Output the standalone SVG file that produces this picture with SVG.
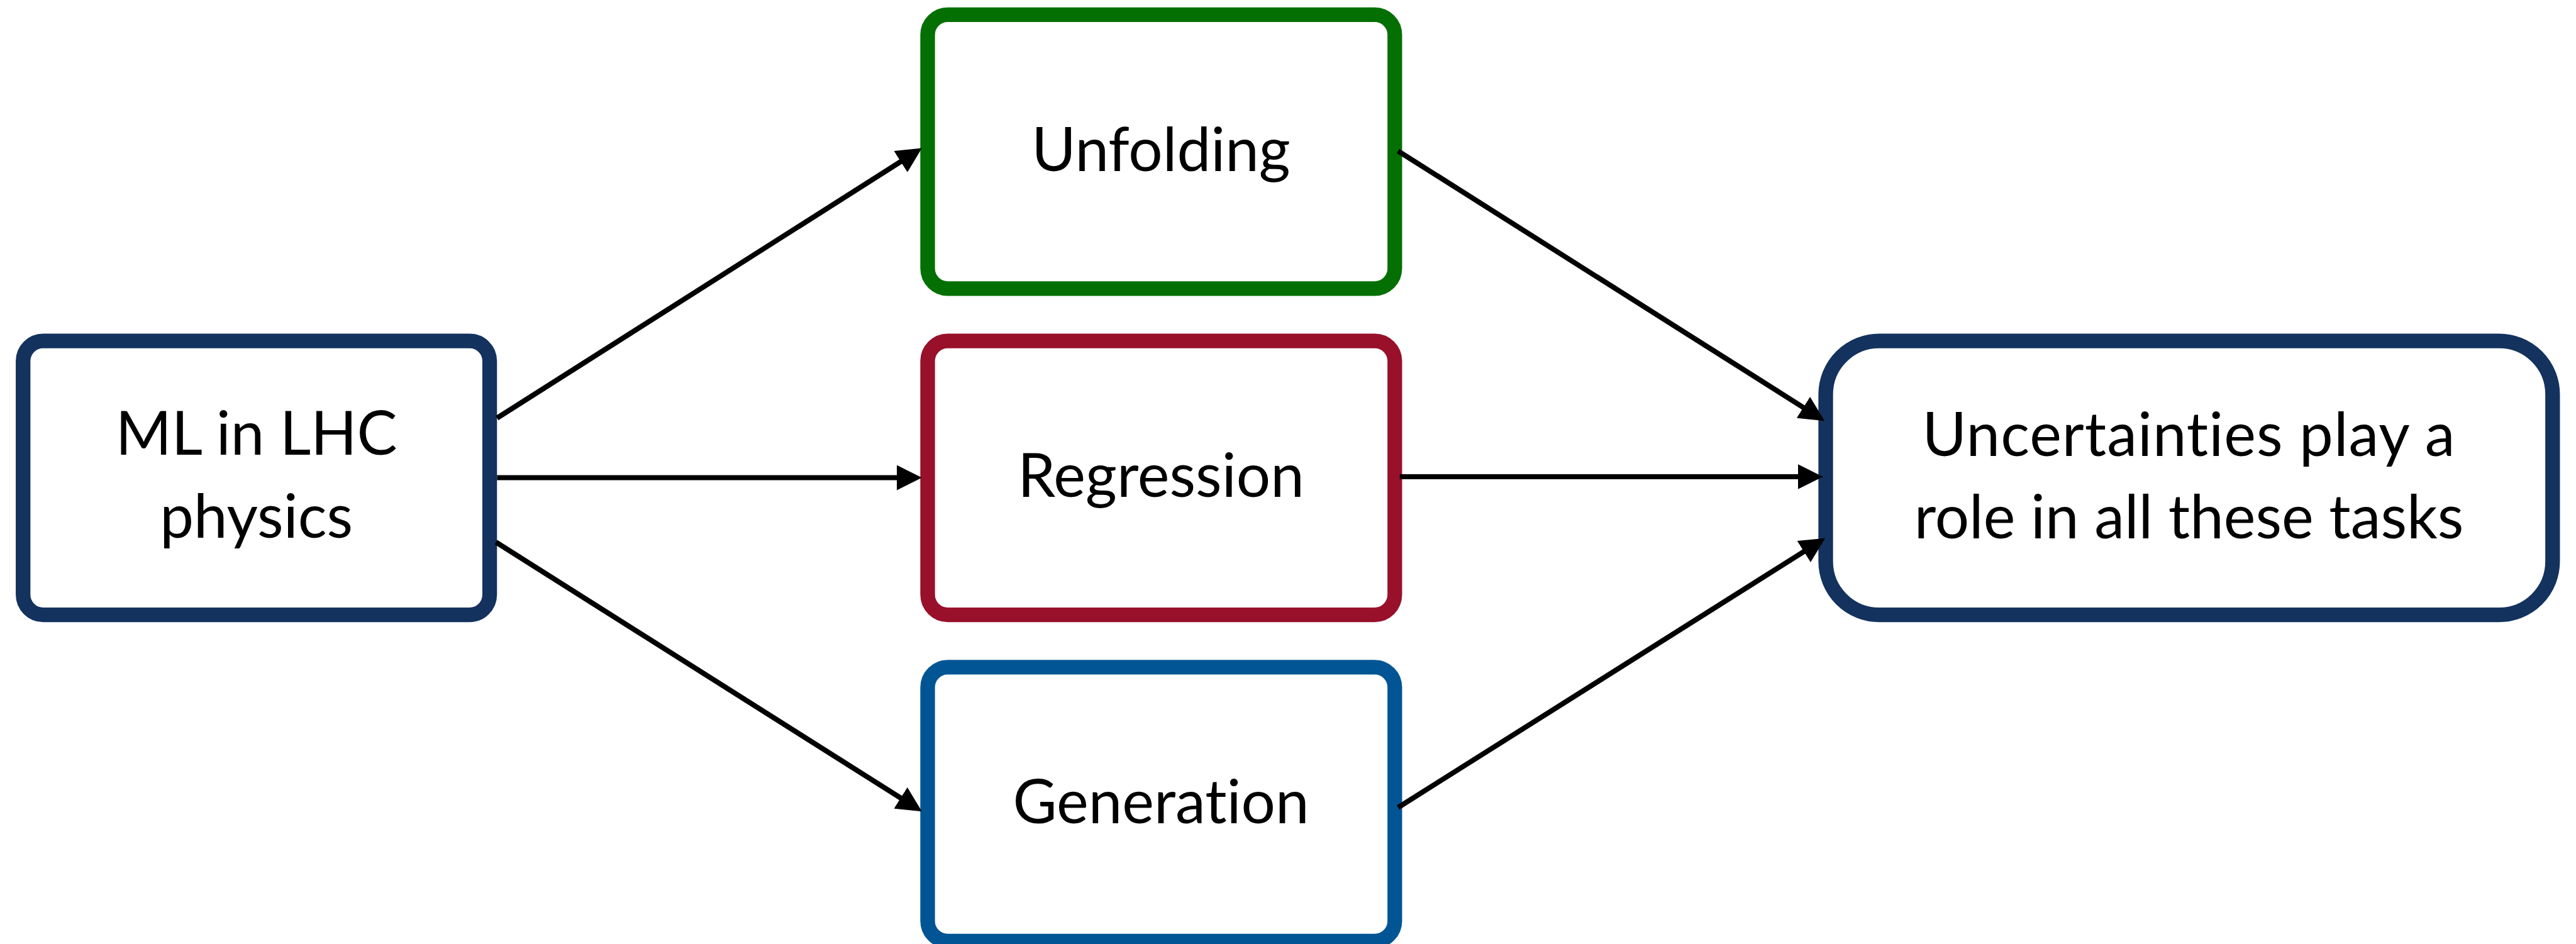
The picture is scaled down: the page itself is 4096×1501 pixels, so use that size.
<svg xmlns="http://www.w3.org/2000/svg" width="4096" height="1501" viewBox="0 0 4096 1501">
  <style>
    .box { fill: #ffffff; stroke-width: 23.3; }
    .navy { stroke: #13325E; }
    .green { stroke: #047004; }
    .red { stroke: #98102A; }
    .blue { stroke: #025594; }
    .label { font-family: Lato, "Noto Sans", "DejaVu Sans", sans-serif; font-size: 96px; fill: #000000; text-anchor: middle; font-variant-ligatures: none; font-feature-settings: "liga" 0; }
    .conn { stroke: #000000; stroke-width: 8.2; fill: none; marker-end: url(#arrow); }
  </style>
  <defs>
    <marker id="arrow" markerUnits="userSpaceOnUse" markerWidth="40" markerHeight="40" viewBox="0 0 40 40" refX="20" refY="20" orient="auto">
      <path d="M0,0 L40,20 L0,40 Z" fill="#000000"/>
    </marker>
  </defs>
  <rect width="4096" height="1501" fill="#ffffff"/>
  <g id="node-ml">
    <rect class="box navy" x="36.7" y="542.1" width="741.9" height="435.5" rx="32" ry="32"/>
    <text class="label" x="407.7" y="723.1">ML in LHC</text>
    <text class="label" x="407.7" y="854.8">physics</text>
  </g>
  <g id="node-unfolding">
    <rect class="box green" x="1475" y="23.3" width="742.8" height="435.5" rx="32" ry="32"/>
    <text class="label" x="1846" y="271.5">Unfolding</text>
  </g>
  <g id="node-regression">
    <rect class="box red" x="1475" y="542.1" width="742.8" height="435.5" rx="32" ry="32"/>
    <text class="label" x="1846" y="790.3">Regression</text>
  </g>
  <g id="node-generation">
    <rect class="box blue" x="1475" y="1060.9" width="742.8" height="435.5" rx="32" ry="32"/>
    <text class="label" x="1846" y="1309">Generation</text>
  </g>
  <g id="node-uncertainties">
    <rect class="box navy" x="2903" y="542.1" width="1155.8" height="435.5" rx="85" ry="85"/>
    <text class="label" x="3480.5" y="724.9" letter-spacing="1">Uncertainties play a</text>
    <text class="label" x="3480.5" y="855.7">role in all these tasks</text>
  </g>
  <g id="connectors">
    <line class="conn" x1="790.3" y1="664.8" x2="1449.0" y2="246.3"/>
    <line class="conn" x1="790.3" y1="759.5" x2="1445.9" y2="759.5"/>
    <line class="conn" x1="788.5" y1="862" x2="1449.0" y2="1279.5"/>
    <line class="conn" x1="2223" y1="240.1" x2="2884.3" y2="658.6"/>
    <line class="conn" x1="2225.7" y1="758" x2="2878.6" y2="758"/>
    <line class="conn" x1="2223" y1="1284" x2="2885.2" y2="866.4"/>
  </g>
</svg>
